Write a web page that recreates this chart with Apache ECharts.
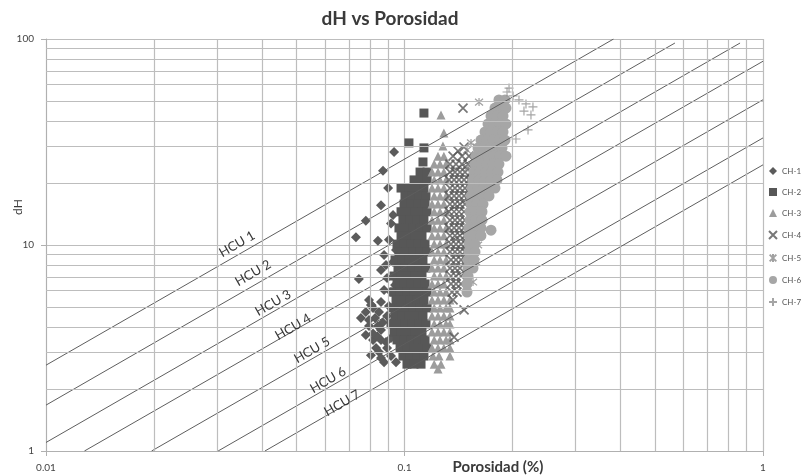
<!DOCTYPE html>
<html>
<head>
<meta charset="utf-8">
<title>dH vs Porosidad</title>
<script src="https://cdn.jsdelivr.net/npm/echarts@6/dist/echarts.min.js"></script>
<style>
    html, body { margin: 0; padding: 0; background: #fff; }
    #chart { width: 802px; height: 476px; }
</style>
</head>
<body>
<div id="chart"></div>
<script>
// minor grid positions (log axes only split at decades)
var xMinorTicks = [0.02, 0.03, 0.04, 0.05, 0.06, 0.07, 0.08, 0.09, 0.2, 0.3, 0.4, 0.5, 0.6, 0.7, 0.8, 0.9];
var yMinorTicks = [2, 3, 4, 5, 6, 7, 8, 9, 20, 30, 40, 50, 60, 70, 80, 90];

var seriesNames = ['CH-1', 'CH-2', 'CH-3', 'CH-4', 'CH-5', 'CH-6', 'CH-7'];

// HCU lines: [porosidad, dH] end points, and where each name sits
var hcuNames = ['HCU 1', 'HCU 2', 'HCU 3', 'HCU 4', 'HCU 5', 'HCU 6', 'HCU 7'];
var hcuLines = [
    [[0.01, 2.61], [0.383, 100]],
    [[0.01, 1.67], [0.568, 95.6]],
    [[0.01, 1.10], [0.863, 95.6]],
    [[0.0128, 1], [1, 78]],
    [[0.0197, 1], [1, 50.7]],
    [[0.0302, 1], [1, 33.1]],
    [[0.0408, 1], [1, 24.5]]
];
var hcuLabelAt = [[0.0341, 10.1], [0.0378, 7.31], [0.0430, 5.23], [0.0489, 4.0], [0.0552, 3.09], [0.0612, 2.21], [0.067, 1.71]];

// CH-1 [porosidad, dH]
var ch1 = [
    [0.0935, 28.3], [0.0871, 22.9], [0.0900, 18.9], [0.0860, 15.6], [0.0929, 14.0], [0.0780, 13.1],
    [0.0917, 12.7], [0.0732, 10.9], [0.0843, 10.5], [0.0905, 10.6], [0.0947, 9.46], [0.0877, 8.94],
    [0.0888, 8.0], [0.0929, 8.27], [0.0860, 7.56], [0.0746, 6.84], [0.0894, 6.92], [0.0941, 6.40],
    [0.0877, 6.05], [0.0917, 5.91], [0.0796, 5.41], [0.0860, 5.29], [0.0817, 4.95], [0.0780, 4.73],
    [0.0756, 4.42], [0.0828, 4.42], [0.0894, 4.52], [0.0935, 4.32], [0.0796, 4.04], [0.0860, 3.87],
    [0.0780, 3.66], [0.0917, 3.54], [0.0817, 3.46], [0.0888, 3.38], [0.0833, 3.16], [0.0849, 3.02],
    [0.0806, 2.92], [0.0917, 2.89], [0.0877, 2.70], [0.0840, 3.60], [0.0870, 4.20], [0.0810, 5.10],
    [0.0806, 5.11], [0.0849, 4.73], [0.0796, 4.32], [0.0843, 4.04], [0.0817, 3.72], [0.0860, 3.46],
    [0.0894, 3.16], [0.0860, 2.83], [0.0947, 2.70], [0.0905, 5.05]
];

// CH-2 rows: [dH, [porosidad...]]
var ch2Rows = [
    [43.7, [0.1133]], [31.3, [0.1029]], [29.6, [0.1133]], [25.3, [0.1126]],
    [22.6, [0.1105, 0.1156]],
    [20.7, [0.1063, 0.1119, 0.1156]],
    [18.9, [0.0978, 0.1029, 0.1077, 0.1133]],
    [17.3, [0.1003, 0.1049, 0.1098, 0.1148]],
    [15.8, [0.0997, 0.1043, 0.1091, 0.1141]],
    [14.5, [0.0978, 0.1023, 0.1070, 0.1119, 0.1156]],
    [13.2, [0.0990, 0.1036, 0.1084, 0.1133]],
    [12.1, [0.0965, 0.1010, 0.1056, 0.1105, 0.1156]],
    [11.1, [0.0978, 0.1023, 0.1070, 0.1119]],
    [10.1, [0.0953, 0.0997, 0.1043, 0.1091, 0.1141]],
    [9.25, [0.0965, 0.1010, 0.1056, 0.1105, 0.1156]],
    [8.46, [0.0941, 0.0984, 0.1029, 0.1077, 0.1126]],
    [7.73, [0.0959, 0.1003, 0.1049, 0.1098, 0.1148]],
    [7.07, [0.0935, 0.0978, 0.1023, 0.1070, 0.1119]],
    [6.47, [0.0953, 0.0997, 0.1043, 0.1091, 0.1141]],
    [5.91, [0.0929, 0.0972, 0.1016, 0.1063, 0.1112, 0.1156]],
    [5.41, [0.0947, 0.0990, 0.1036, 0.1084, 0.1133]],
    [4.95, [0.0923, 0.0965, 0.1010, 0.1056, 0.1105, 0.1156]],
    [4.52, [0.0941, 0.0984, 0.1029, 0.1077, 0.1126]],
    [4.14, [0.0917, 0.0959, 0.1003, 0.1049, 0.1098, 0.1148]],
    [3.78, [0.0935, 0.0978, 0.1023, 0.1070, 0.1119]],
    [3.46, [0.0953, 0.0997, 0.1043, 0.1091, 0.1141]],
    [3.16, [0.0972, 0.1016, 0.1063, 0.1112, 0.1156]],
    [2.89, [0.0990, 0.1036, 0.1084, 0.1133]],
    [2.64, [0.1016, 0.1063, 0.1112]]
];

// CH-3 rows
var ch3Rows = [
    [42.8, [0.1264]], [35.0, [0.1288]], [30.2, [0.1280]],
    [27.0, [0.1240, 0.1288]],
    [24.7, [0.1210, 0.1256, 0.1306]],
    [22.6, [0.1193, 0.1240, 0.1288]],
    [20.7, [0.1210, 0.1256, 0.1306]],
    [18.9, [0.1193, 0.1240, 0.1288]],
    [17.3, [0.1210, 0.1256, 0.1306]],
    [15.8, [0.1193, 0.1240, 0.1288]],
    [14.5, [0.1210, 0.1256, 0.1306]],
    [13.2, [0.1193, 0.1240, 0.1288]],
    [12.1, [0.1210, 0.1256, 0.1306]],
    [11.1, [0.1193, 0.1240, 0.1288]],
    [10.1, [0.1210, 0.1256, 0.1306]],
    [9.25, [0.1193, 0.1240, 0.1288]],
    [8.46, [0.1210, 0.1256, 0.1306]],
    [7.73, [0.1193, 0.1240, 0.1288]],
    [7.07, [0.1210, 0.1256, 0.1306]],
    [6.47, [0.1193, 0.1240, 0.1288]],
    [5.91, [0.1210, 0.1256, 0.1306]],
    [5.41, [0.1193, 0.1240, 0.1288, 0.1339]],
    [4.95, [0.1210, 0.1256, 0.1306, 0.1339]],
    [4.52, [0.1193, 0.1240, 0.1288, 0.1339]],
    [4.14, [0.1210, 0.1256, 0.1306, 0.1339]],
    [3.78, [0.1193, 0.1240, 0.1288, 0.1339]],
    [3.46, [0.1210, 0.1256, 0.1306, 0.1339]],
    [3.16, [0.1193, 0.1240, 0.1288, 0.1339]],
    [2.89, [0.1201, 0.1248, 0.1339]],
    [2.64, [0.1210, 0.1264]],
    [2.50, [0.1240]]
];

// CH-4 rows
var ch4Rows = [
    [46.2, [0.1456]], [29.9, [0.1466]], [28.6, [0.1410]],
    [27.0, [0.1366, 0.1447, 0.1513]],
    [24.7, [0.1339, 0.1392, 0.1447, 0.1504]],
    [22.6, [0.1339, 0.1383, 0.1428, 0.1475, 0.1533]],
    [20.7, [0.1331, 0.1375, 0.1419, 0.1466, 0.1513]],
    [18.9, [0.1339, 0.1383, 0.1428, 0.1475, 0.1523]],
    [17.3, [0.1331, 0.1375, 0.1419, 0.1466, 0.1513]],
    [15.8, [0.1339, 0.1383, 0.1428, 0.1475]],
    [14.5, [0.1331, 0.1375, 0.1419, 0.1466]],
    [13.2, [0.1339, 0.1383, 0.1428, 0.1475]],
    [12.1, [0.1331, 0.1375, 0.1419, 0.1466]],
    [11.1, [0.1339, 0.1383, 0.1428, 0.1475, 0.1533]],
    [10.1, [0.1348, 0.1392, 0.1438, 0.1484, 0.1543]],
    [9.25, [0.1339, 0.1383, 0.1428, 0.1475, 0.1523]],
    [8.46, [0.1348, 0.1392, 0.1438, 0.1484]],
    [7.73, [0.1339, 0.1383, 0.1428]],
    [7.07, [0.1348, 0.1392, 0.1438]],
    [6.47, [0.1348, 0.1392, 0.1438]],
    [5.91, [0.1357, 0.1401]],
    [5.41, [0.1366]],
    [4.84, [0.1466]],
    [3.57, [0.1375]]
];

// CH-5 [porosidad, dH]
var ch5 = [
    [0.1614, 49.4], [0.1533, 31.3], [0.1593, 29.9], [0.1494, 28.9], [0.1563, 25.9], [0.1504, 23.7],
    [0.1573, 21.9], [0.1533, 19.6], [0.1593, 18.1], [0.1553, 16.5], [0.1614, 15.1], [0.1563, 13.5],
    [0.1624, 12.5], [0.1553, 11.2], [0.1604, 10.0], [0.1533, 9.25], [0.1583, 8.27], [0.1513, 7.39],
    [0.1553, 6.61], [0.1494, 5.91]
];

// CH-6 rows
var ch6Rows = [
    [50.6, [0.1834, 0.1907]],
    [46.2, [0.1788, 0.1858, 0.1919]],
    [42.3, [0.1743, 0.1811, 0.1883]],
    [38.7, [0.1710, 0.1777, 0.1847, 0.1919]],
    [35.4, [0.1677, 0.1743, 0.1811, 0.1883]],
    [32.3, [0.1634, 0.1699, 0.1766, 0.1834, 0.1907]],
    [29.6, [0.1604, 0.1666, 0.1732, 0.1799, 0.1871]],
    [27.0, [0.1583, 0.1645, 0.1710, 0.1777, 0.1847, 0.1919]],
    [24.7, [0.1573, 0.1634, 0.1699, 0.1766, 0.1834]],
    [22.6, [0.1563, 0.1624, 0.1688, 0.1754, 0.1823]],
    [20.7, [0.1553, 0.1614, 0.1677, 0.1743, 0.1811]],
    [18.9, [0.1543, 0.1604, 0.1666, 0.1732, 0.1788]],
    [17.3, [0.1533, 0.1593, 0.1656, 0.1721]],
    [15.8, [0.1533, 0.1593, 0.1656]],
    [14.5, [0.1523, 0.1583, 0.1645]],
    [13.2, [0.1523, 0.1583, 0.1645]],
    [12.1, [0.1513, 0.1573, 0.1634]],
    [11.8, [0.1743]],
    [11.1, [0.1513, 0.1573, 0.1634]],
    [10.1, [0.1513, 0.1573]],
    [9.25, [0.1513, 0.1573]],
    [8.46, [0.1504, 0.1563]],
    [7.73, [0.1504, 0.1553]],
    [7.07, [0.1504]],
    [6.47, [0.1494]],
    [5.91, [0.1494]]
];

// CH-7 [porosidad, dH]
var ch7 = [
    [0.1957, 57.8], [0.1932, 55.3], [0.2008, 52.9], [0.2086, 50.6], [0.2182, 48.4],
    [0.2282, 46.8], [0.2154, 44.7], [0.2253, 42.8], [0.2211, 36.2], [0.2046, 32.7]
];

var FONT = 'Lato, "Open Sans", sans-serif';
var GRID_COLOR = '#bdbdbd';

function rowsToPoints(rows) {
    var pts = [];
    rows.forEach(function (r) {
        r[1].forEach(function (x) {
            pts.push([x, r[0]]);
        });
    });
    return pts;
}

// stroke-only markers (x, star, plus)
var SYM_X = 'path://M0,0L10,10M10,0L0,10';
var SYM_STAR = 'path://M0,0L10,10M10,0L0,10M5,-1L5,11';
var SYM_PLUS = 'path://M5,0L5,10M0,5L10,5';

function scatterSeries(name, data, symbol, size, color, strokeWidth) {
    return {
        name: name,
        type: 'scatter',
        data: data,
        symbol: symbol,
        symbolSize: size,
        z: 2,
        itemStyle: strokeWidth ? {
            color: 'rgba(0,0,0,0)',
            borderColor: color,
            borderWidth: strokeWidth
        } : {
            color: color,
            opacity: 1
        }
    };
}

function hcuSeries(i) {
    return {
        name: hcuNames[i],
        type: 'line',
        data: hcuLines[i],
        symbol: 'none',
        silent: true,
        z: 3,
        lineStyle: { color: '#5e5e5e', width: 1 },
        markPoint: {
            symbol: 'rect',
            symbolSize: 1,
            silent: true,
            itemStyle: { color: 'rgba(0,0,0,0)' },
            label: {
                show: true,
                position: 'inside',
                formatter: '{b}',
                rotate: 30,
                fontSize: 13,
                fontFamily: FONT,
                color: '#383838'
            },
            data: [{ name: hcuNames[i], coord: hcuLabelAt[i] }]
        }
    };
}

var minorLines = [];
xMinorTicks.forEach(function (v) { minorLines.push({ xAxis: v }); });
yMinorTicks.forEach(function (v) { minorLines.push({ yAxis: v }); });

var series = [{
    name: 'grid',
    type: 'line',
    data: [],
    silent: true,
    z: 1,
    markLine: {
        silent: true,
        symbol: ['none', 'none'],
        animation: false,
        label: { show: false },
        lineStyle: { color: GRID_COLOR, width: 1.2, type: 'solid' },
        data: minorLines
    }
},
    scatterSeries('CH-1', ch1, 'diamond', 10, '#5b5b5b'),
    scatterSeries('CH-2', rowsToPoints(ch2Rows), 'rect', 9, '#575757'),
    scatterSeries('CH-3', rowsToPoints(ch3Rows), 'triangle', 9, '#9c9c9c'),
    scatterSeries('CH-4', rowsToPoints(ch4Rows), SYM_X, 9, '#555555', 1.7),
    scatterSeries('CH-5', ch5, SYM_STAR, 8, '#8a8a8a', 1.2),
    scatterSeries('CH-6', rowsToPoints(ch6Rows), 'circle', 11, '#a6a6a6'),
    scatterSeries('CH-7', ch7, SYM_PLUS, 9, '#8f8f8f', 1.2)
];
for (var i = 0; i < hcuLines.length; i++) {
    series.push(hcuSeries(i));
}

function logAxis(min, max, labelMargin) {
    return {
        type: 'log',
        logBase: 10,
        min: min,
        max: max,
        axisLine: { show: true, lineStyle: { color: '#b0b0b0', width: 1 } },
        axisTick: { show: true, length: 5, lineStyle: { color: '#b0b0b0' } },
        axisLabel: {
            fontSize: 10, color: '#444', fontFamily: FONT, margin: labelMargin,
            showMinLabel: true, showMaxLabel: true
        },
        splitLine: { show: true, lineStyle: { color: GRID_COLOR, width: 1.2 } },
        minorTick: { show: false },
        minorSplitLine: { show: false }
    };
}

var chart = echarts.init(document.getElementById('chart'), null, { renderer: 'canvas' });
chart.setOption({
    animation: false,
    backgroundColor: '#fff',
    grid: { left: 46, right: 39, top: 39, bottom: 25, containLabel: false },
    xAxis: logAxis(0.01, 1, 12),
    yAxis: logAxis(1, 100, 12),
    legend: {
        data: seriesNames,
        orient: 'vertical',
        left: 763,
        top: 162,
        itemWidth: 8,
        itemHeight: 8,
        itemGap: 13,
        textStyle: { fontSize: 8, color: '#555', fontFamily: FONT },
        selectedMode: false
    },
    graphic: [{
        type: 'text',
        x: 390,
        y: 19,
        style: {
            text: 'dH vs Porosidad',
            font: 'bold 19px ' + FONT,
            fill: '#3a3a3a',
            align: 'center',
            verticalAlign: 'middle'
        }
    }, {
        type: 'text',
        x: 498,
        y: 467,
        style: {
            text: 'Porosidad (%)',
            font: 'bold 15px ' + FONT,
            fill: '#3a3a3a',
            align: 'center',
            verticalAlign: 'middle'
        }
    }, {
        type: 'text',
        x: 18,
        y: 207,
        rotation: Math.PI / 2,
        style: {
            text: 'dH',
            font: '12px ' + FONT,
            fill: '#3a3a3a',
            align: 'center',
            verticalAlign: 'middle'
        }
    }],
    series: series
});
</script>
</body>
</html>
